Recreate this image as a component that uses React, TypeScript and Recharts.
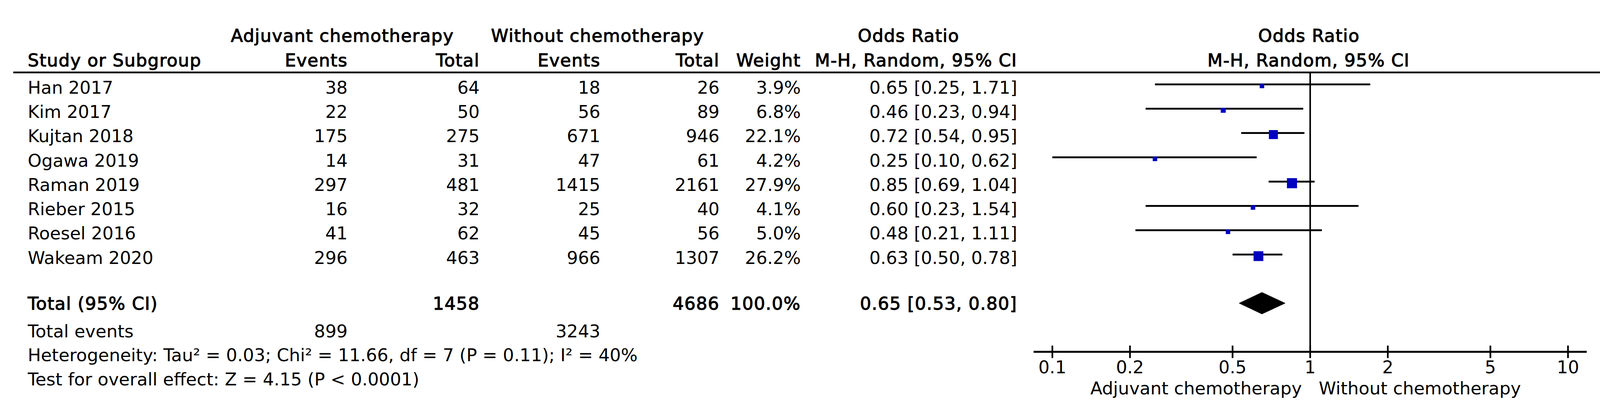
import React from 'react';
import { ComposedChart, Scatter, ErrorBar, XAxis, YAxis, ReferenceLine, Customized } from 'recharts';

// ---------- data ----------
const studies = ['Han 2017', 'Kim 2017', 'Kujtan 2018', 'Ogawa 2019', 'Raman 2019', 'Rieber 2015', 'Roesel 2016', 'Wakeam 2020'];
const expEvents = [38, 22, 175, 14, 297, 16, 41, 296];
const expTotal = [64, 50, 275, 31, 481, 32, 62, 463];
const ctrlEvents = [18, 56, 671, 47, 1415, 25, 45, 966];
const ctrlTotal = [26, 89, 946, 61, 2161, 40, 56, 1307];
const weights = [3.9, 6.8, 22.1, 4.2, 27.9, 4.1, 5.0, 26.2];
const orValues = [0.65, 0.46, 0.72, 0.25, 0.85, 0.6, 0.48, 0.63];
const ciLow = [0.25, 0.23, 0.54, 0.1, 0.69, 0.23, 0.21, 0.5];
const ciHigh = [1.71, 0.94, 0.95, 0.62, 1.04, 1.54, 1.11, 0.78];
const totalRow = 9;
const totalOR = 0.65;
const totalLow = 0.53;
const totalHigh = 0.8;
const totalExp = 1458;
const totalCtrl = 4686;
const totalWeight = 100.0;
const totalEventsExp = 899;
const totalEventsCtrl = 3243;
const axisTicks = [0.1, 0.2, 0.5, 1, 2, 5, 10];
const axisDomain = [0.08457, 11.82];
const heterogeneityText = 'Heterogeneity: Tau\u00B2 = 0.03; Chi\u00B2 = 11.66, df = 7 (P = 0.11); I\u00B2 = 40%';
const overallText = 'Test for overall effect: Z = 4.15 (P < 0.0001)';
const leftFavours = 'Adjuvant chemotherapy';
const rightFavours = 'Without chemotherapy';

// ---------- layout ----------
const W = 4112;
const H = 1050;
const TOP = 185;
const AXIS_H = 149;
const LEFT = 2646;
const RIGHT = 50;
const Y_DOMAIN = [-0.5, 11];
const ROW = (H - AXIS_H - TOP) / (Y_DOMAIN[1] - Y_DOMAIN[0]);
const rowCenter = (i: number) => TOP + (i - Y_DOMAIN[0]) * ROW;
const FONT = "'DejaVu Sans', Verdana, sans-serif";
const BLUE = '#0000C0';
const DIAMOND_HALF = 0.445;

const fmt2 = (v: number) => v.toFixed(2);
const ciText = (o: number, l: number, h: number) => `${fmt2(o)} [${fmt2(l)}, ${fmt2(h)}]`;

const ciData = studies.map((s, i) => ({ x: orValues[i], y: i, err: [orValues[i] - ciLow[i], ciHigh[i] - orValues[i]] }));
const squareData = studies.map((s, i) => ({ x: orValues[i], y: i, w: weights[i] }));
const diamondData = [
  { x: totalLow, y: totalRow },
  { x: totalOR, y: totalRow - DIAMOND_HALF },
  { x: totalHigh, y: totalRow },
  { x: totalOR, y: totalRow + DIAMOND_HALF },
];

const base: React.CSSProperties = { fontFamily: FONT, fontSize: 45, fill: '#000' };
const bold: React.CSSProperties = { ...base, stroke: '#000', strokeWidth: 1.4, letterSpacing: '1.4px' };

const COL = { name: 71, expEv: 890, expTot: 1228, ctrlEv: 1537, ctrlTot: 1842, weight: 2050, ci: 2604 };

function T(props: { x: number; y: number; anchor?: 'start' | 'middle' | 'end'; b?: boolean; children: React.ReactNode }) {
  return (
    <text x={props.x} y={props.y} textAnchor={props.anchor || 'start'} style={props.b ? bold : base}>
      {props.children}
    </text>
  );
}

function TableText() {
  const rows = studies.map((s, i) => {
    const y = rowCenter(i) + 23.7;
    return (
      <g key={s}>
        <T x={COL.name} y={y}>{s}</T>
        <T x={COL.expEv} y={y} anchor="end">{expEvents[i]}</T>
        <T x={COL.expTot} y={y} anchor="end">{expTotal[i]}</T>
        <T x={COL.ctrlEv} y={y} anchor="end">{ctrlEvents[i]}</T>
        <T x={COL.ctrlTot} y={y} anchor="end">{ctrlTotal[i]}</T>
        <T x={COL.weight} y={y} anchor="end">{weights[i].toFixed(1)}%</T>
        <T x={COL.ci} y={y} anchor="end">{ciText(orValues[i], ciLow[i], ciHigh[i])}</T>
      </g>
    );
  });
  const ty = 793;
  return (
    <g>
      {/* headers */}
      <T x={591} y={107} b>Adjuvant chemotherapy</T>
      <T x={1257} y={107} b>Without chemotherapy</T>
      <T x={2326} y={107} anchor="middle" b>Odds Ratio</T>
      <T x={3351} y={107} anchor="middle" b>Odds Ratio</T>
      <T x={COL.name} y={170} b>Study or Subgroup</T>
      <T x={COL.expEv} y={170} anchor="end" b>Events</T>
      <T x={COL.expTot} y={170} anchor="end" b>Total</T>
      <T x={COL.ctrlEv} y={170} anchor="end" b>Events</T>
      <T x={COL.ctrlTot} y={170} anchor="end" b>Total</T>
      <T x={COL.weight} y={170} anchor="end" b>Weight</T>
      <T x={COL.ci} y={170} anchor="end" b>M-H, Random, 95% CI</T>
      <T x={3350} y={170} anchor="middle" b>M-H, Random, 95% CI</T>
      <line x1={34} x2={4104} y1={185.5} y2={185.5} stroke="#000" strokeWidth={4.4} />
      {rows}
      {/* total */}
      <T x={COL.name} y={ty} b>Total (95% CI)</T>
      <T x={COL.expTot} y={ty} anchor="end" b>{totalExp}</T>
      <T x={COL.ctrlTot} y={ty} anchor="end" b>{totalCtrl}</T>
      <T x={COL.weight} y={ty} anchor="end" b>{totalWeight.toFixed(1)}%</T>
      <T x={COL.ci} y={ty} anchor="end" b>{ciText(totalOR, totalLow, totalHigh)}</T>
      <T x={COL.name} y={864}>Total events</T>
      <T x={COL.expEv} y={864} anchor="end">{totalEventsExp}</T>
      <T x={COL.ctrlEv} y={864} anchor="end">{totalEventsCtrl}</T>
      <T x={COL.name} y={925}>{heterogeneityText}</T>
      <T x={COL.name} y={987}>{overallText}</T>
      {/* favours labels */}
      <T x={3333} y={1010} anchor="end">{leftFavours}</T>
      <T x={3376} y={1010}>{rightFavours}</T>
    </g>
  );
}

function AxisTick(props: any) {
  const { x, y, payload } = props;
  return (
    <g>
      <line x1={x} x2={x} y1={y - 16} y2={y + 16} stroke="#000" strokeWidth={4.3} />
      <text x={x} y={y + 55} textAnchor="middle" style={base}>
        {String(payload.value)}
      </text>
    </g>
  );
}

export default function App() {
  return (
    <div style={{ position: 'absolute', left: 0, top: 0, width: W, height: H, background: '#fff' }}>
      <ComposedChart width={W} height={H} margin={{ top: TOP, right: RIGHT, bottom: 0, left: LEFT }}>
        <XAxis
          type="number"
          dataKey="x"
          scale="log"
          domain={axisDomain}
          allowDataOverflow
          ticks={axisTicks}
          interval={0}
          tickSize={0}
          tickMargin={0}
          height={AXIS_H}
          axisLine={{ stroke: '#000', strokeWidth: 5 }}
          tickLine={false}
          tick={<AxisTick />}
        />
        <YAxis type="number" dataKey="y" domain={Y_DOMAIN} reversed hide allowDataOverflow />
        <ReferenceLine x={1} stroke="#000" strokeWidth={4} />
        <Scatter data={ciData} isAnimationActive={false} shape={() => <g />}>
          <ErrorBar dataKey="err" direction="x" width={0} stroke="#000" strokeWidth={4.7} isAnimationActive={false} />
        </Scatter>
        <Scatter
          data={squareData}
          isAnimationActive={false}
          shape={(p: any) => {
            const s = Math.max(11.5, 4.9 * Math.sqrt(p.payload.w));
            return <rect x={p.cx - s / 2} y={p.cy + 4 - s / 2} width={s} height={s} fill={BLUE} />;
          }}
        />
        <Scatter
          data={diamondData}
          isAnimationActive={false}
          fill="#000"
          shape={() => <g />}
          line={{ fill: '#000', stroke: '#000', strokeWidth: 1 }}
          lineType="joint"
          lineJointType="linearClosed"
        />
        <Customized component={<TableText />} />
      </ComposedChart>
    </div>
  );
}
